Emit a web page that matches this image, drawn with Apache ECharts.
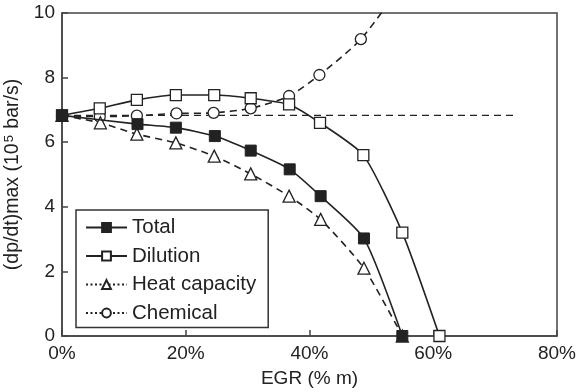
<!DOCTYPE html>
<html><head><meta charset="utf-8">
<script src="https://cdn.jsdelivr.net/npm/echarts@6/dist/echarts.min.js"></script>
<style>html,body{margin:0;padding:0;background:#fff}#c{width:576px;height:392px}</style>
</head><body><div id="c"></div>
<script>
// Data (EGR % mass vs (dp/dt)max in 1e5 bar/s)
var totalX    = [0, 12.2, 18.4, 24.7, 30.5, 36.8, 41.8, 48.8, 55.0];
var totalY    = [6.83, 6.56, 6.45, 6.19, 5.74, 5.16, 4.33, 3.02, 0];
var dilutionX = [0, 6.1, 12.1, 18.4, 24.6, 30.5, 36.7, 41.7, 48.7, 55.0, 61.0];
var dilutionY = [6.83, 7.05, 7.31, 7.46, 7.46, 7.36, 7.17, 6.60, 5.60, 3.20, 0];
var heatX     = [0, 6.2, 12.1, 18.4, 24.6, 30.5, 36.7, 41.8, 48.8, 55.0];
var heatY     = [6.83, 6.60, 6.25, 5.98, 5.57, 5.02, 4.33, 3.61, 2.10, 0];
var chemX     = [0, 6.1, 12.1, 18.5, 24.5, 30.5, 36.7, 41.6, 48.3, 54.8];
var chemY     = [6.83, 6.79, 6.82, 6.89, 6.91, 7.05, 7.43, 8.08, 9.19, 10.85];
var refX      = [0, 73.3];
var refY      = [6.83, 6.83];
var xTicks    = [0, 20, 40, 60, 80];
var yTicks    = [0, 2, 4, 6, 8, 10];
var names     = ['Total', 'Dilution', 'Heat capacity', 'Chemical'];

function pairs(xs, ys, hideAfter) {
  return xs.map(function (x, i) {
    var item = { value: [x, ys[i]] };
    if (hideAfter !== undefined && i > hideAfter) item.symbol = 'none';
    return item;
  });
}
var INK = '#222';
var FONT = 'Liberation Sans';
var chart = echarts.init(document.getElementById('c'), null, { renderer: 'canvas' });
var option = {
  animation: false,
  backgroundColor: '#fff',
  grid: { left: 62, right: 19, top: 13, bottom: 56, containLabel: false, outerBoundsMode: 'none',
    show: true, borderColor: '#444', borderWidth: 1.5, backgroundColor: 'transparent' },
  xAxis: {
    type: 'value', min: xTicks[0], max: xTicks[xTicks.length - 1], interval: 20,
    name: 'EGR (% m)', nameLocation: 'middle', nameGap: 33,
    nameTextStyle: { fontFamily: FONT, fontSize: 19, color: INK },
    axisLine: { lineStyle: { color: '#444', width: 1.5 } },
    axisTick: { inside: true, length: 6, lineStyle: { color: '#444', width: 1.5 } },
    axisLabel: { formatter: '{value}%', margin: 8, fontFamily: FONT, fontSize: 19, color: INK },
    splitLine: { show: false }
  },
  yAxis: {
    type: 'value', min: yTicks[0], max: yTicks[yTicks.length - 1], interval: 2,
    name: '(dp/dt)max (10{sup|5} bar/s)', nameLocation: 'middle', nameGap: 31, nameRotate: 90,
    nameTextStyle: { fontFamily: FONT, fontSize: 19.5, color: INK,
      rich: { sup: { fontFamily: FONT, fontSize: 13, color: INK, verticalAlign: 'top', padding: [0, 1, 8, 1] } } },
    axisLine: { lineStyle: { color: '#444', width: 1.5 } },
    axisTick: { inside: true, length: 6, lineStyle: { color: '#444', width: 1.5 } },
    axisLabel: { margin: 7, fontFamily: FONT, fontSize: 19, color: INK },
    splitLine: { show: false }
  },
  legend: {
    left: 76, top: 210, orient: 'vertical',
    backgroundColor: '#fff', borderColor: '#333', borderWidth: 1.5,
    padding: [7, 12, 4, 9], itemGap: 7.5, itemWidth: 41, itemHeight: 11,
    textStyle: { fontFamily: FONT, fontSize: 20.5, color: INK, lineHeight: 20 },
    data: [
      { name: names[0] },
      { name: names[1] },
      { name: names[2], lineStyle: { type: [2, 2.5] } },
      { name: names[3], lineStyle: { type: [2, 2.5] } }
    ]
  },
  series: [
    { type: 'line', name: 'ref', data: pairs(refX, refY), showSymbol: false, symbol: 'none', silent: true,
      lineStyle: { color: INK, width: 1.3, type: [7, 5] }, z: 1 },
    { type: 'line', name: names[3], data: pairs(chemX, chemY, 8), smooth: 0.25, clip: true,
      symbol: 'circle', symbolSize: 11,
      itemStyle: { color: '#fff', borderColor: INK, borderWidth: 1.3 },
      lineStyle: { color: INK, width: 1.6, type: [7, 5] }, z: 2 },
    { type: 'line', name: names[2], data: pairs(heatX, heatY), smooth: 0.2,
      symbol: 'triangle', symbolSize: 12,
      itemStyle: { color: '#fff', borderColor: INK, borderWidth: 1.3 },
      lineStyle: { color: INK, width: 1.6, type: [7, 5] }, z: 3 },
    { type: 'line', name: names[1], data: pairs(dilutionX, dilutionY), smooth: 0.2,
      symbol: 'rect', symbolSize: 11,
      itemStyle: { color: '#fff', borderColor: INK, borderWidth: 1.3 },
      lineStyle: { color: INK, width: 1.6 }, z: 4 },
    { type: 'line', name: names[0], data: pairs(totalX, totalY), smooth: 0.2,
      symbol: 'rect', symbolSize: 11,
      itemStyle: { color: INK, borderColor: INK, borderWidth: 1 },
      lineStyle: { color: INK, width: 1.6 }, z: 5 }
  ]
};
chart.setOption(option);
</script>
</body></html>
